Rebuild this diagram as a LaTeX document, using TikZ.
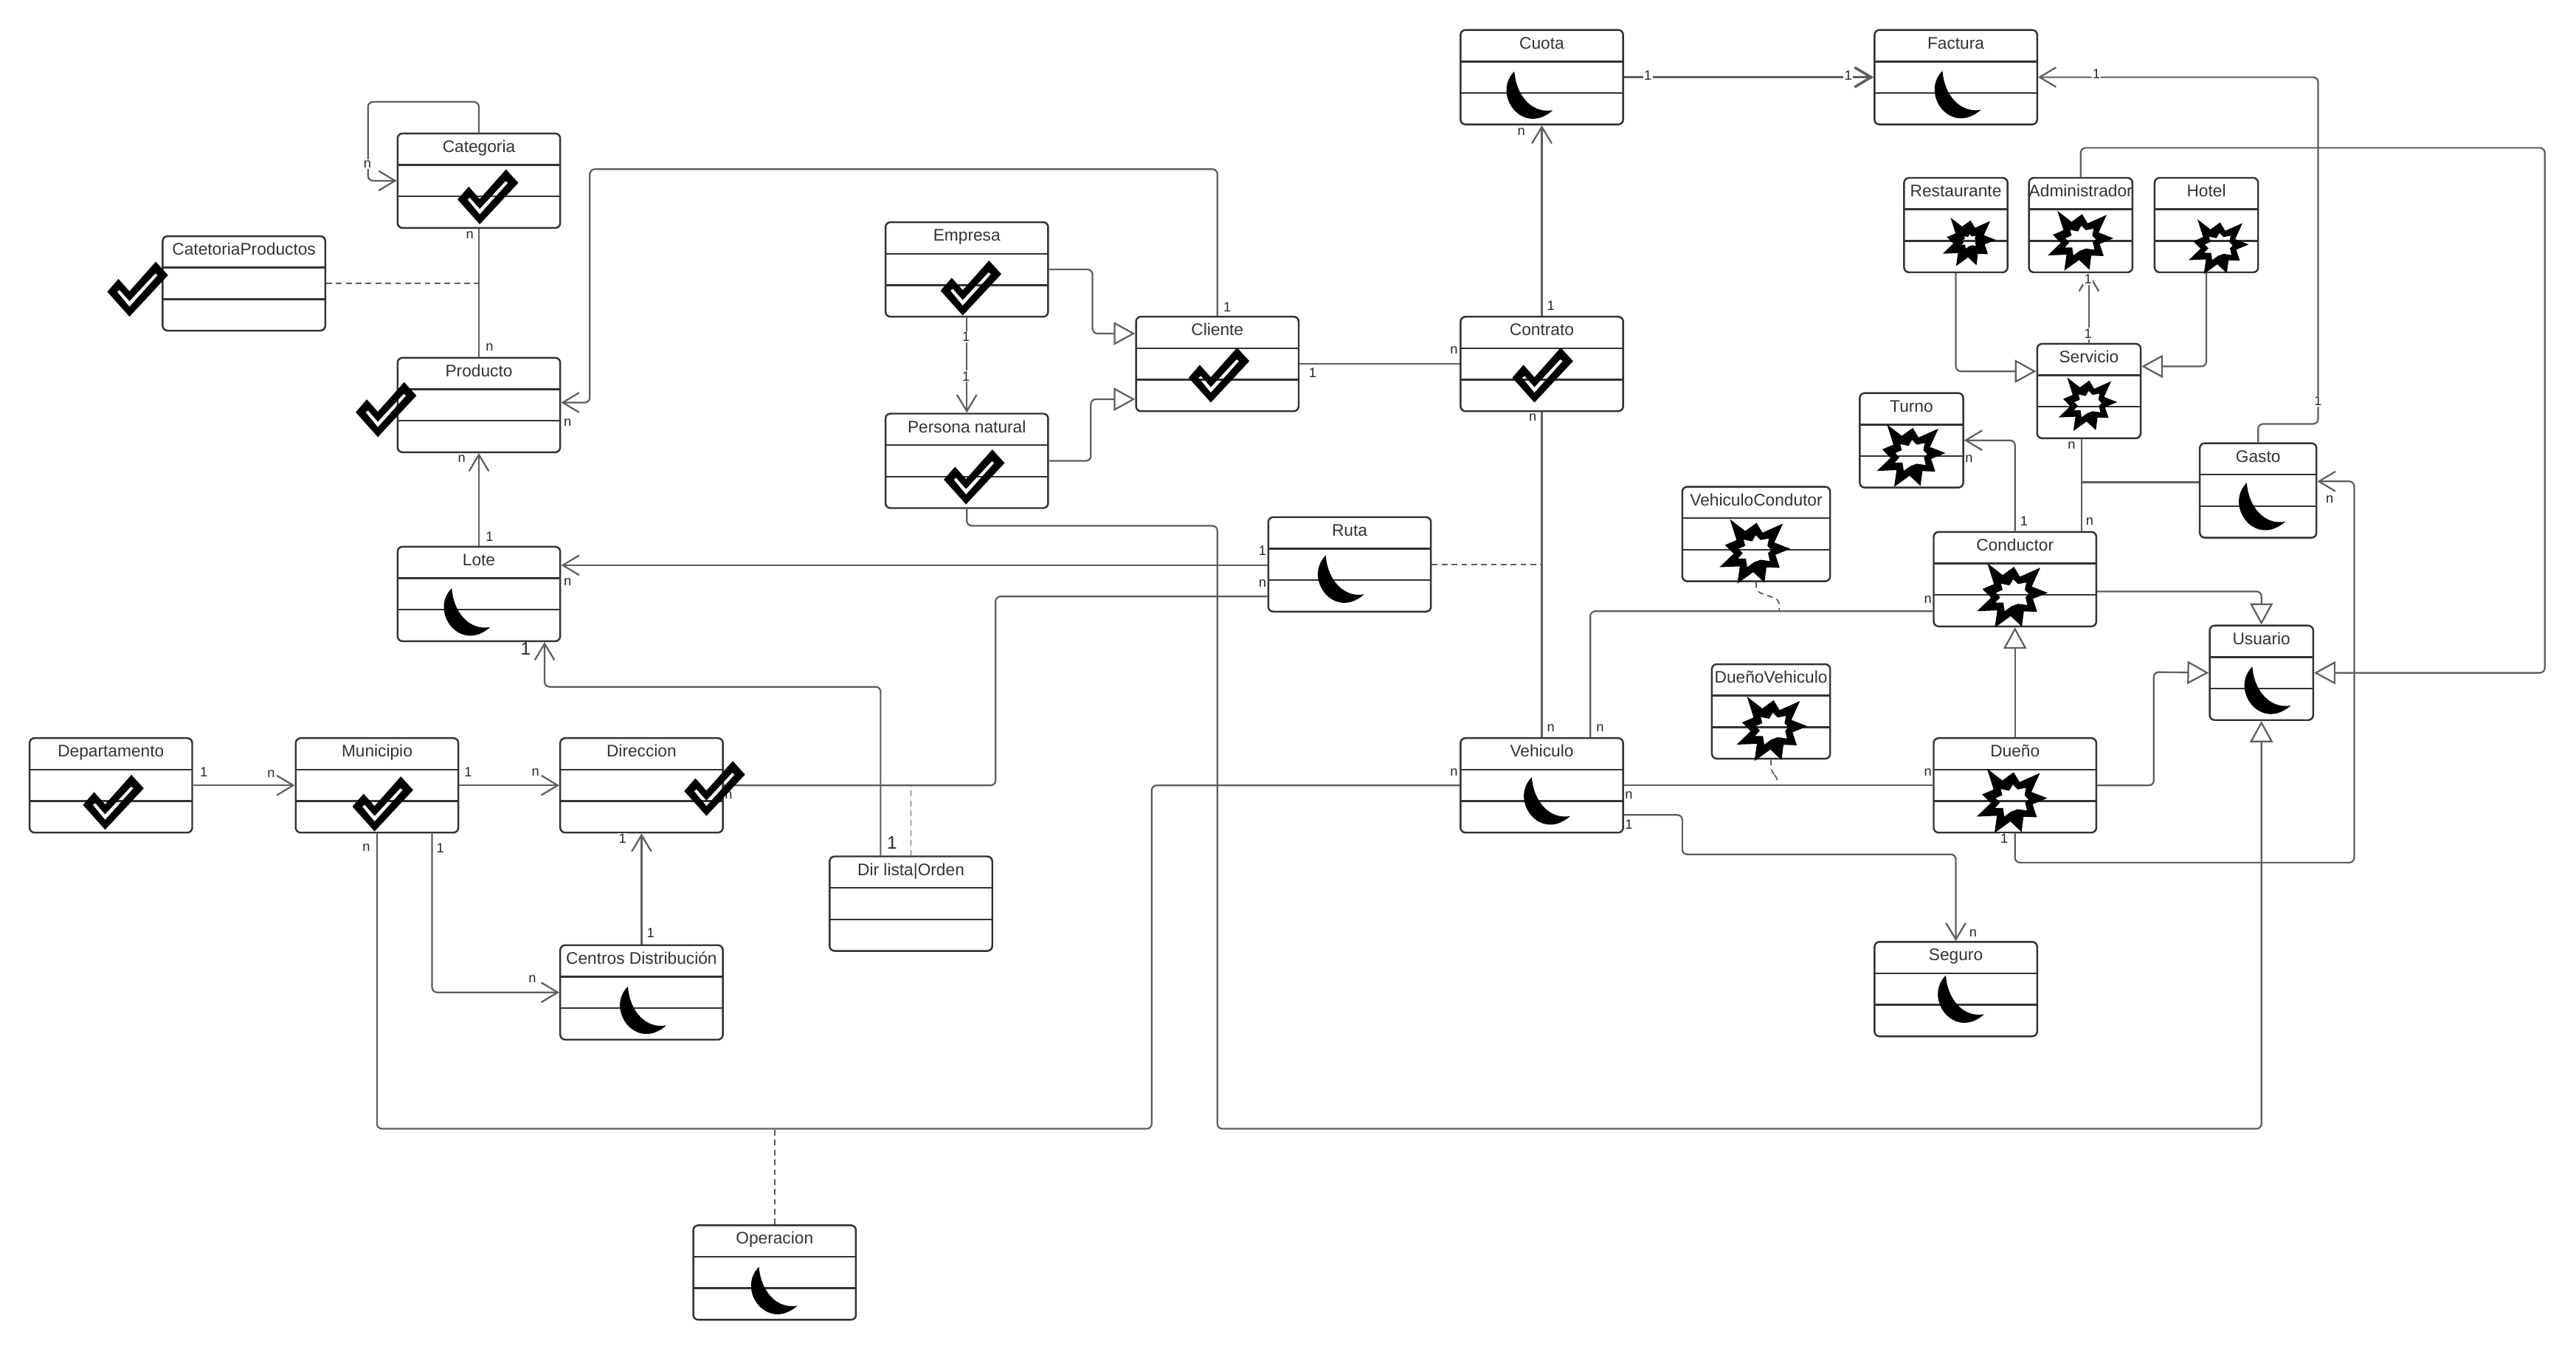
\documentclass[tikz,border=0pt]{standalone}
\usepackage{fontspec}
\setmainfont{Liberation Sans}
\usepackage{tikz}
\usetikzlibrary{arrows.meta,calc}
\definecolor{boxline}{HTML}{333333}
\definecolor{wire}{HTML}{5E5E5E}
\tikzset{
  classbox/.style={draw=boxline, line width=1.1pt, rounded corners=3pt, fill=white,
    minimum width=99pt, inner xsep=0pt, inner ysep=.5pt, text height=11pt, text depth=45.5pt,
    text=boxline, font=\fontsize{10.2}{12}\selectfont,
    path picture={
      \draw[boxline, line width=1.1pt, rounded corners=0pt]
        ($(path picture bounding box.north west)!.3333!(path picture bounding box.south west)$) --
        ($(path picture bounding box.north east)!.3333!(path picture bounding box.south east)$)
        ($(path picture bounding box.north west)!.6667!(path picture bounding box.south west)$) --
        ($(path picture bounding box.north east)!.6667!(path picture bounding box.south east)$);
    }},
  classsmall/.style={classbox, minimum width=63pt},
  assoc/.style={draw=wire, line width=1pt, rounded corners=3pt},
  navarrow/.style={assoc, -{Straight Barb[length=10pt,width=12pt]}},
  genarrow/.style={assoc, -{Triangle[open,length=13pt,width=14pt]}},
  dashlink/.style={assoc, line width=.8pt, dash pattern=on 3.5pt off 2.5pt},
  multlabel/.style={fill=white, inner sep=.6pt, text=black!85, font=\fontsize{8.2}{9}\selectfont},
  multbig/.style={multlabel, font=\fontsize{11}{12}\selectfont},
  pics/okmark/.style={code={
    \fill[black, even odd rule] (0,0) -- (-13.5,-15.1) -- (-6.7,-22.9) -- (0,-15.4) -- (16,-33.4) -- (23.5,-25.2) -- cycle
      (-7.5,-15.1) -- (0,-6) -- (17.2,-25.2) -- (15.7,-26.3) -- (0,-9.4) -- (-6,-16.2) -- cycle;
  }},
  pics/moonmark/.style={code={
    \fill[black] (0,0) .. controls (-14,14) and (5,40) .. (23.4,23.7)
      .. controls (11,26) and (1,15) .. (0,0) -- cycle;
  }},
  pics/blastmark/.style={code={
    \fill[black, even odd rule] (0,0) -- (9.3,7.2) -- (16.2,2.2) -- (19.8,8.2) -- (32.2,2.7) -- (27,14.2) -- (36.7,18)
      -- (27.7,21.7) -- (30.3,29.6) -- (22.2,29.3) -- (21,38.6) -- (14.2,32.2) -- (4.5,39.2) -- (6,28.7)
      -- (-6.3,29.2) -- (2.2,21) -- (-3,15.7) -- (4,12.7) -- cycle
      {[shift={(15,19)}, scale=#1, shift={(-15,-19)}] (15.7,9.7) -- (18.7,12.7) -- (23.7,11.7) -- (22.8,16.2)
      -- (25.2,18.7) -- (23.2,20.7) -- (24.3,25.5) -- (18.7,24.7) -- (14.6,26.2) -- (10.5,29.2) -- (9.7,24)
      -- (4.8,24) -- (7.8,20.7) -- (5.2,18) -- (9.3,16.2) -- (8.3,12.4) -- (13.5,13.5) -- cycle};
  }},
  pics/blastmark/.default=1,
}

\begin{document}
\begin{tikzpicture}[x=1pt, y=-1pt]
  \useasboundingbox (0,0) rectangle (1568,821);
  % clases, izquierda
  \node[classbox] (cat) at (291.5,110) {Categoria};
  \node[classbox] (catprod) at (148.5,172.5) {CatetoriaProductos};
  \node[classbox] (prod) at (291.5,246.5) {Producto};
  \node[classbox] (lote) at (291.5,361.5) {Lote};
  \node[classbox] (depto) at (67.5,478) {Departamento};
  \node[classbox] (muni) at (229.5,478) {Municipio};
  \node[classbox] (dir) at (390.5,478) {Direccion};
  \node[classbox] (centros) at (390.5,604) {Centros Distribución};
  \node[classbox] (dirlista) at (554.5,550) {Dir lista|Orden};
  \node[classbox] (oper) at (471.5,774.5) {Operacion};
  % clases, centro
  \node[classbox] (empresa) at (588.5,164) {Empresa};
  \node[classbox] (persona) at (588.5,280.5) {Persona natural};
  \node[classbox] (cliente) at (741,221.5) {Cliente};
  \node[classbox] (contrato) at (938.5,221.5) {Contrato};
  \node[classbox] (cuota) at (938.5,47) {Cuota};
  \node[classbox] (factura) at (1190.5,47) {Factura};
  \node[classbox] (ruta) at (821.5,343.5) {Ruta};
  \node[classbox] (vehiculo) at (938.5,478) {Vehiculo};
  \node[classbox] (seguro) at (1190.5,602) {Seguro};
  % clases, derecha
  \node[classbox] (dueno) at (1226.5,478) {Dueño};
  \node[classbox] (conductor) at (1226.5,352.5) {Conductor};
  \node[classsmall] (resta) at (1190.5,137) {Restaurante};
  \node[classsmall] (admin) at (1266.5,137) {Administrador};
  \node[classsmall] (hotel) at (1343,137) {Hotel};
  \node[classsmall] (serv) at (1271.5,238) {Servicio};
  \node[classsmall] (turno) at (1163.5,268) {Turno};
  \node[classsmall, minimum width=71pt] (gasto) at (1374.5,298.5) {Gasto};
  \node[classsmall] (usuario) at (1376.5,409.5) {Usuario};
  \node[classsmall, minimum width=90pt] (vehcond) at (1069,325) {VehiculoCondutor};
  \node[classsmall, minimum width=72pt] (duenoveh) at (1078,433) {DueñoVehiculo};

  % producto y categorias
  \draw[navarrow] (cat.north) |- (224,62) |- (cat.west |- 0,110);
  \draw[assoc] (cat.south) -- (prod.north);
  \draw[dashlink] (catprod.east) -- (cat.south |- catprod.east);
  \draw[navarrow] (lote.north) -- (prod.south);
  \draw[navarrow] (cliente.north) |- (359,103) |- (prod.east |- 0,245);
  % cliente y contrato
  \draw[navarrow] (empresa.south) -- (persona.north);
  \draw[genarrow] (empresa.east) -| (665,203) -- (cliente.west |- 0,203);
  \draw[genarrow] (persona.east) -| (664,243) -- (cliente.west |- 0,243);
  \draw[assoc] (cliente.east) -- (contrato.west);
  \draw[navarrow] (contrato.north) -- (cuota.south);
  \draw[navarrow, line width=1.6pt] (cuota.east) -- (factura.west);
  \draw[navarrow] (gasto.north) |- (1411,258) |- (factura.east);
  % servicios
  \draw[genarrow] (admin.north) |- (1549,90) |- (usuario.east);
  \draw[genarrow] (resta.south) |- (serv.west |- 0,226);
  \draw[genarrow] (hotel.south) |- (serv.east |- 0,223);
  \draw[navarrow] (serv.north) -- (admin.south -| serv.north);
  \draw[assoc] (serv.south -| 1267,0) -- (conductor.north -| 1267,0);
  \coordinate (gastojoin) at (1267,293.5);
  \draw[assoc] (gasto.west |- gastojoin) -- (gastojoin);
  \draw[navarrow] (conductor.north) |- (turno.east);
  \draw[genarrow] (conductor.east |- 0,360) -| (usuario.north);
  \draw[genarrow] (dueno.north) -- (conductor.south);
  \draw[genarrow] (dueno.east) -| (1311,409) -- (usuario.west);
  \draw[navarrow] (dueno.south) |- (1433,525) |- (gasto.east |- 0,293);
  % vehiculo
  \draw[assoc] (vehiculo.east) -- (dueno.west);
  \draw[assoc] (conductor.west |- 0,372) -| (vehiculo.north -| 968,0);
  \draw[assoc] (contrato.south) -- (vehiculo.north);
  \draw[dashlink] (duenoveh.south) -- (1078,470) -- (1082,473) -- (1082,478);
  \draw[dashlink] (vehcond.south) -- (1069,360) -- (1083,365) -- (1083,372);
  \draw[dashlink] (ruta.east) -- (contrato.south |- ruta.east);
  \draw[navarrow] (vehiculo.east |- 0,496) -| (1024,520) -| (seguro.north);
  % ruta y direcciones
  \draw[navarrow] (ruta.west |- 0,344) -- (lote.east |- 0,344);
  \draw[assoc] (ruta.west |- 0,363) -| (606,478) -- (dir.east);
  \draw[navarrow] (dirlista.north -| 536,0) |- (331.5,418) -- (lote.south -| 331.5,0);
  \draw[dashlink] (dirlista.north) -- (dirlista.north |- 0,478);
  \draw[navarrow] (depto.east) -- (muni.west);
  \draw[navarrow] (muni.east) -- (dir.west);
  \draw[navarrow] (centros.north) -- (dir.south);
  \draw[navarrow] (muni.south -| 263,0) |- (centros.west);
  % lineas largas
  \draw[assoc] (vehiculo.west) -| (701,687) -| (muni.south);
  \coordinate (operjoin) at (oper.north |- 0,687);
  \draw[dashlink] (oper.north) -- (operjoin);
  \draw[genarrow] (persona.south) |- (741,320) |- (1376.5,687) -- (usuario.south);

  % multiplicidades
  \foreach \x/\y/\t [count=\i] in {
    223.6/100/n, 286/143/n, 298/211.5/n, 298/326.5/1, 281/279/n, 747/187/1, 345.5/257/n,
    588/205/1, 588/229/1, 799/227/1, 885/213/n, 944/186/1, 926/80/n, 1003/46/1, 1125/46/1,
    1276/45/1, 1411/244/1, 1271/170/1, 1271/203/1, 1261/271/n, 1272/317.5/n, 1232/317/1,
    1198.5/279/n, 1220/510.5/1, 1418/304/n, 991.5/484/n, 1173.5/470/n, 1173.5/365/n, 974/443/n,
    933/254/n, 944/443/n, 991.5/502/1, 1201/568/n, 768.5/335/1, 768.5/355/n, 345.5/354/n,
    443.5/484/n, 124/470/1, 165/471/n, 285/470/1, 326/470/n, 396/568/1, 379/510.5/1,
    268/516/1, 324/596/n, 885/470/n, 223/516/n}
    \node[multlabel] (mult\i) at (\x,\y) {\t};
  \node[multbig] (dirone) at (543,513) {1};
  \node[multbig] (loteone) at (320,395) {1};

  % iconos
  \foreach \x/\y in {292/136.5, 78.8/192.7, 230/266, 586/192, 588/307, 737/245, 934/245, 64/505, 228/506, 430/496.6}
    \pic at (\x,\y) {okmark};
  \foreach \x/\y in {921.8/43.4, 1182.4/43.1, 932.4/473, 275/358, 807/338, 1367.6/293.8, 1371/405.7, 1184.4/593.6, 382.2/600.4, 462/771}
    \pic at (\x,\y) {moonmark};
  \foreach \x/\y in {1209.7/342.8, 1063.4/424, 1209.5/467.8, 1053/316}
    \pic at (\x,\y) {blastmark};
  \pic[scale=.75] at (1187.3,132.5) {blastmark=.6};
  \pic[scale=.93] at (1252.3,128.3) {blastmark=1};
  \pic[scale=.85] at (1337.6,133.5) {blastmark=1};
  \pic[scale=.83] at (1258.3,229.8) {blastmark=1};
  \pic[scale=.97] at (1148.6,258.3) {blastmark=1};
\end{tikzpicture}
\end{document}
